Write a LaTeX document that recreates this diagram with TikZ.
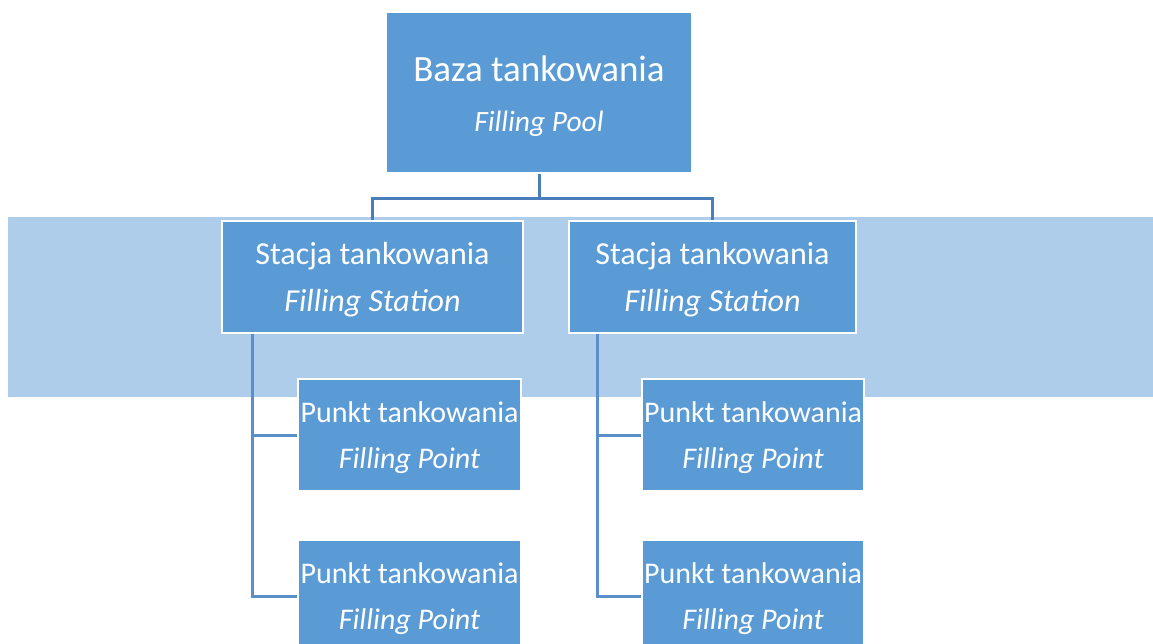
\documentclass[tikz,border=0pt]{standalone}
\usepackage{fontspec}
\setmainfont{Carlito}
\usepackage{tikz}
\usetikzlibrary{positioning}

\definecolor{boxblue}{HTML}{5B9BD5}
\definecolor{bandblue}{HTML}{AECDEA}
\definecolor{linkdark}{HTML}{4A7EBB}
\definecolor{linkside}{HTML}{5A8FC9}
\newcommand{\boxstrut}{\rule{0pt}{0.9em}}

\tikzset{
	unitbox/.style={fill=boxblue, draw=white, line width=2pt, text=white, align=center, inner sep=0pt},
	poolbox/.style={unitbox, minimum width=306, minimum height=161, font=\fontsize{37}{44}\selectfont},
	stationbox/.style={unitbox, minimum height=112, font=\fontsize{32}{38}\selectfont},
	pointbox/.style={unitbox, minimum height=112, font=\fontsize{30}{36}\selectfont},
	toplink/.style={draw=linkdark, line width=3pt},
	sidelink/.style={draw=linkside, line width=3pt}
}

\begin{document}
\begin{tikzpicture}[x=1pt, y=-1pt]
		\useasboundingbox (0,0) rectangle (1153,643);
		\fill[bandblue] (8,217) rectangle (1153,397);
		\node[poolbox] (pool) at (539,92.5) {\boxstrut Baza tankowania\\[6pt]{\itshape\fontsize{29.5}{35}\selectfont Filling Pool}};
		\node[stationbox, minimum width=301] (st1) at (372.5,276.5) {\boxstrut Stacja tankowania\\[9pt]{\itshape Filling Station}};
		\node[stationbox, minimum width=287] (st2) at (712.5,276.5) {\boxstrut Stacja tankowania\\[9pt]{\itshape Filling Station}};
		\node[pointbox, minimum width=223] (pt11) at (409.5,435) {\boxstrut Punkt tankowania\\[10pt]{\itshape Filling Point}};
		\node[pointbox, minimum width=223] (pt12) at (409.5,596) {\boxstrut Punkt tankowania\\[10pt]{\itshape Filling Point}};
		\node[pointbox, minimum width=222] (pt21) at (753,435) {\boxstrut Punkt tankowania\\[10pt]{\itshape Filling Point}};
		\node[pointbox, minimum width=222] (pt22) at (753,596) {\boxstrut Punkt tankowania\\[10pt]{\itshape Filling Point}};
		\coordinate (bus) at (539,198);
		\draw[toplink] (pool.south) -- (bus) -| (st1.north);
		\draw[toplink] (bus) -| (st2.north);
		\draw[sidelink] ([xshift=31]st1.south west) |- (pt11.west);
		\draw[sidelink] ([xshift=31]st1.south west) |- (pt12.west);
		\draw[sidelink] ([xshift=29]st2.south west) |- (pt21.west);
		\draw[sidelink] ([xshift=29]st2.south west) |- (pt22.west);
	\end{tikzpicture}
\end{document}
